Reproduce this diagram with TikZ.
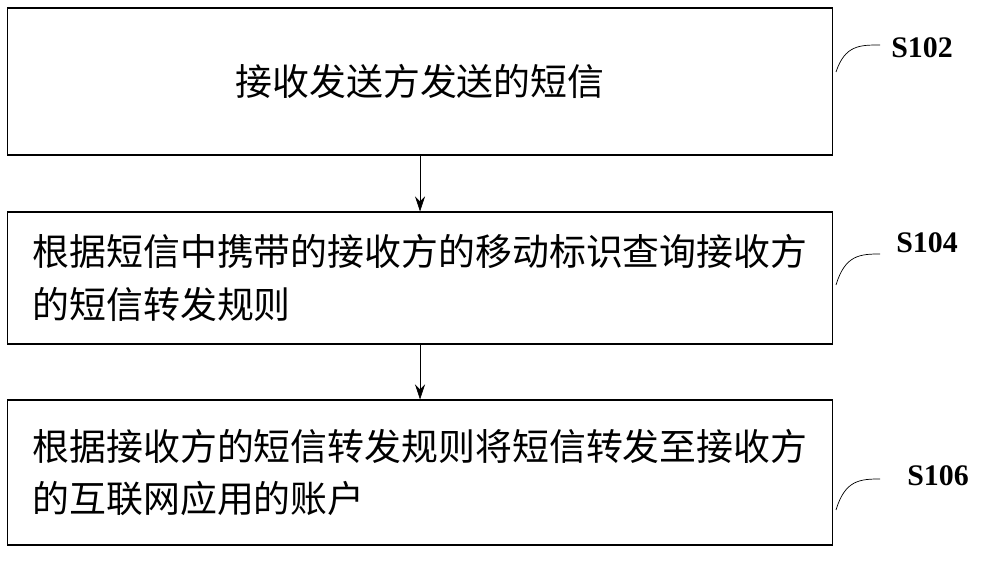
\documentclass[tikz,border=0pt]{standalone}
\usepackage{fontspec}
\setmainfont{Liberation Serif}
\newfontfamily\cjk{Noto Sans CJK SC}
\usetikzlibrary{positioning,arrows.meta}
\tikzset{
  stepbox/.style={draw, line width=0.6pt, minimum width=16.52cm, align=left, font=\cjk\fontsize{21}{30}\selectfont},
  steplabel/.style={font=\bfseries\fontsize{17}{20}\selectfont},
}
\begin{document}
\begin{tikzpicture}[x=0.02cm, y=-0.02cm]
\useasboundingbox (0,0) rectangle (1000,577);
\node[stepbox, minimum height=2.94cm] (b1) at (420,81.5) {接收发送方发送的短信};
\node[stepbox, minimum height=2.64cm] (b2) at (420,278) {根据短信中携带的接收方的移动标识查询接收方\\的短信转发规则};
\node[stepbox, minimum height=2.9cm] (b3) at (420,472.5) {根据接收方的短信转发规则将短信转发至接收方\\的互联网应用的账户};
\draw[-{Stealth[length=3mm,width=2mm]}] (b1) -- (b2);
\draw[-{Stealth[length=3mm,width=2mm]}] (b2) -- (b3);
\node[steplabel] (s1) at (922,48) {S102};
\node[steplabel] (s2) at (927,243) {S104};
\node[steplabel] (s3) at (938,476) {S106};
\draw (836,72) .. controls (845,45) and (860,45) .. (880,45);
\draw (836,285) .. controls (845,255) and (860,254) .. (880,254);
\draw (836,510) .. controls (845,480) and (860,479) .. (880,479);
\end{tikzpicture}
\end{document}
